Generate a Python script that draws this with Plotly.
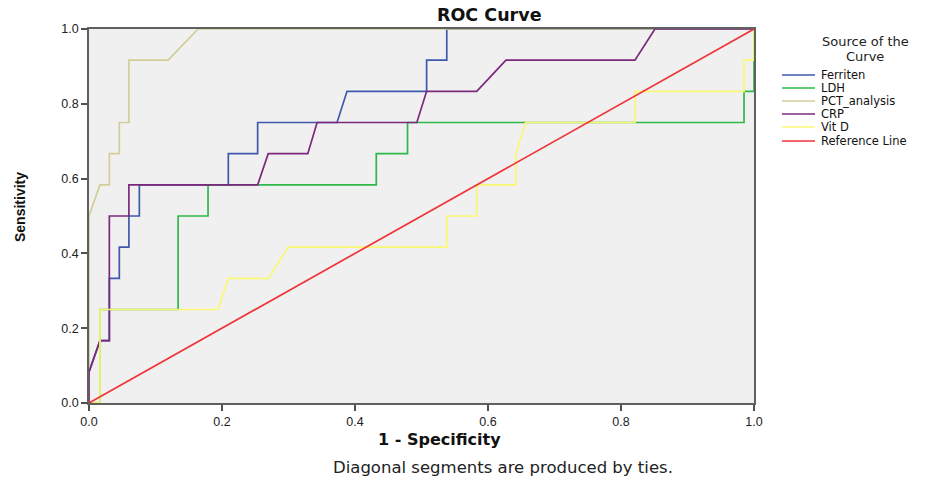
import plotly.graph_objects as go

# ---------------- data ----------------
series_names = ["Ferriten", "LDH", "PCT_analysis", "CRP", "Vit D", "Reference Line"]
series_colors = ["#3E58AC", "#2EB848", "#D3CE97", "#7C287D", "#FBF873", "#EF3338"]

ferriten_x = [0, 0, 0.0165, 0.0306, 0.0306, 0.0456, 0.0456, 0.060, 0.060, 0.0757, 0.0757,
              0.2095, 0.2095, 0.2536, 0.2536, 0.373, 0.388, 0.5077, 0.5077, 0.538, 0.538, 1.0]
ferriten_y = [0, 0.0833, 0.1667, 0.1667, 0.3333, 0.3333, 0.4167, 0.4167, 0.5, 0.5, 0.5833,
              0.5833, 0.6667, 0.6667, 0.75, 0.75, 0.8333, 0.8333, 0.9167, 0.9167, 1.0, 1.0]

ldh_x = [0, 0.0165, 0.0165, 0.134, 0.134, 0.179, 0.179, 0.432, 0.432, 0.479, 0.479,
         0.985, 0.985, 1.0, 1.0]
ldh_y = [0, 0, 0.25, 0.25, 0.5, 0.5, 0.5833, 0.5833, 0.6667, 0.6667, 0.75,
         0.75, 0.8333, 0.8333, 1.0]

pct_x = [0, 0, 0.0165, 0.0306, 0.0306, 0.0456, 0.0456, 0.060, 0.060, 0.119, 0.164, 1.0]
pct_y = [0, 0.5, 0.5833, 0.5833, 0.6667, 0.6667, 0.75, 0.75, 0.9167, 0.9167, 1.0, 1.0]

crp_x = [0, 0, 0.0165, 0.0306, 0.0306, 0.060, 0.060, 0.2536, 0.2695, 0.329, 0.343,
         0.493, 0.5077, 0.583, 0.627, 0.821, 0.851, 1.0]
crp_y = [0, 0.0833, 0.1667, 0.1667, 0.5, 0.5, 0.5833, 0.5833, 0.6667, 0.6667, 0.75,
         0.75, 0.8333, 0.8333, 0.9167, 0.9167, 1.0, 1.0]

vitd_x = [0, 0.0165, 0.0165, 0.194, 0.2095, 0.270, 0.2997, 0.538, 0.538, 0.583, 0.583,
          0.642, 0.642, 0.6566, 0.821, 0.821, 0.985, 0.985, 1.0, 1.0]
vitd_y = [0, 0, 0.25, 0.25, 0.3333, 0.3333, 0.4167, 0.4167, 0.5, 0.5, 0.5833,
          0.5833, 0.6667, 0.75, 0.75, 0.8333, 0.8333, 0.9167, 0.9167, 1.0]

ref_x = [0, 1]
ref_y = [0, 1]

tick_vals = [0.0, 0.2, 0.4, 0.6, 0.8, 1.0]
tick_text = ["0.0", "0.2", "0.4", "0.6", "0.8", "1.0"]

# ---------------- figure ----------------
W, H = 951, 480
L, R, T, B = 89, 754, 29, 403


def px_x(p):
    return (p - L) / (R - L)


def px_y(p):
    return (B - p) / (B - T)


fig = go.Figure()
all_x = [ferriten_x, ldh_x, pct_x, crp_x, vitd_x, ref_x]
all_y = [ferriten_y, ldh_y, pct_y, crp_y, vitd_y, ref_y]
for name, col, xs, ys in zip(series_names, series_colors, all_x, all_y):
    fig.add_trace(go.Scatter(x=xs, y=ys, mode="lines", name=name,
                             line=dict(color=col, width=1.7), showlegend=False,
                             cliponaxis=False))

axis_common = dict(range=[0, 1], tickvals=tick_vals, ticktext=tick_text,
                   showgrid=False, zeroline=False, showline=True, mirror=True,
                   linecolor="#606060", linewidth=1.5, ticks="outside", ticklen=6,
                   tickcolor="#505050", tickwidth=1.5,
                   tickfont=dict(family="Liberation Sans, Arial", size=12.5, color="#222222"))
fig.update_xaxes(**axis_common)
fig.update_yaxes(**axis_common)


def ann(text, x, y, size, family="DejaVu Sans", xanchor="center", angle=0, color="#222222"):
    return dict(text=text, x=px_x(x), y=px_y(y), xref="paper", yref="paper",
                xanchor=xanchor, yanchor="middle", showarrow=False, textangle=angle,
                font=dict(family=family, size=size, color=color))


annotations = [
    ann("<b>ROC Curve</b>", 490, 15, 17.5, color="#111111"),
    ann("<b>1 - Specificity</b>", 439, 439, 16, color="#111111"),
    ann("<b>Sensitivity</b>", 20, 207, 14, family="Liberation Sans, Arial", angle=-90,
        color="#111111"),
    ann("Diagonal segments are produced by ties.", 503, 467, 16.5),
    ann("Source of the", 865, 41, 13),
    ann("Curve", 865, 57, 13),
]
shapes = []
legend_y = [75, 88, 101, 114, 127, 141]
for name, col, ly in zip(series_names, series_colors, legend_y):
    shapes.append(dict(type="line", xref="paper", yref="paper",
                       x0=px_x(782), x1=px_x(815), y0=px_y(ly), y1=px_y(ly),
                       line=dict(color=col, width=1.5)))
    annotations.append(ann(name, 819, ly, 11.5, xanchor="left", color="#111111"))

fig.update_layout(width=W, height=H, margin=dict(l=L, r=W - R, t=T, b=H - B),
                  paper_bgcolor="white", plot_bgcolor="#F0F0F0",
                  annotations=annotations, shapes=shapes, showlegend=False)

fig.write_html("out.html", config={"displayModeBar": False},
               post_script="document.body.style.margin='0';")
